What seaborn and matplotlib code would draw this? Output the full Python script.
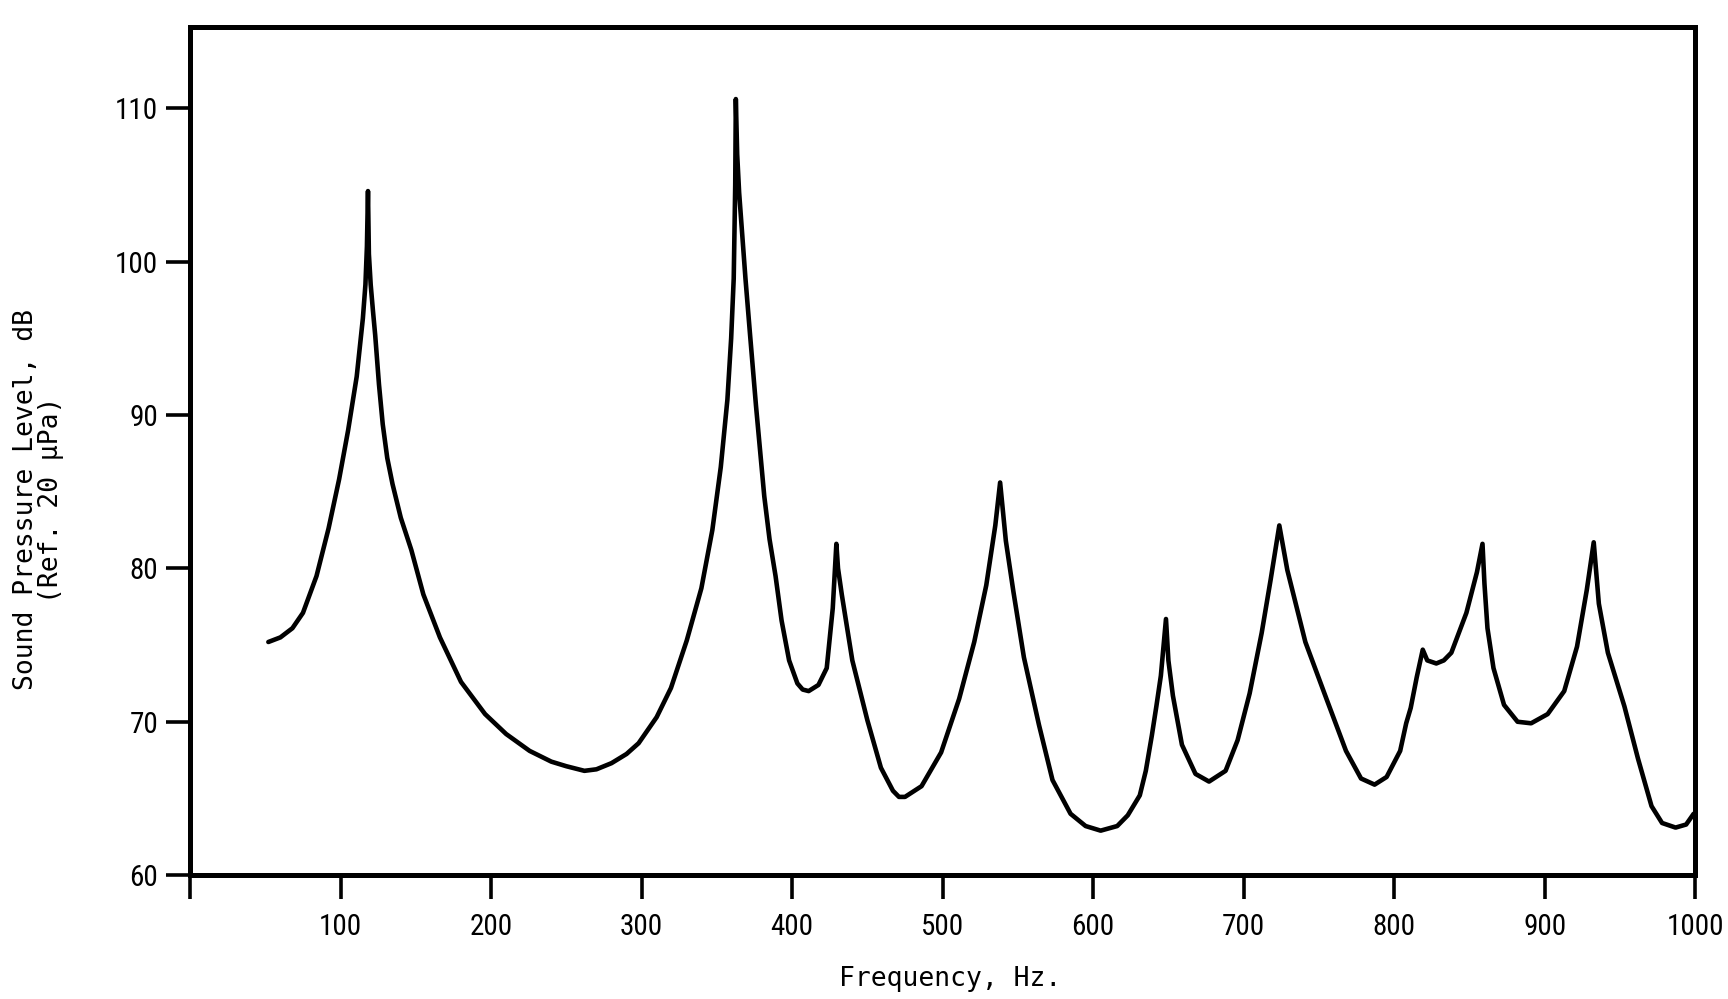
import matplotlib
matplotlib.use("Agg")
import matplotlib.pyplot as plt
from matplotlib import font_manager
import seaborn as sns
import pandas as pd

# ---- data (frequency in Hz, level in dB) ----
freq_hz = [52, 60, 68, 75, 84, 92, 99, 105, 110.7, 114.8, 116.5, 117.5, 118.2,
           118.8, 120, 121.5, 123, 125.5, 128, 131, 134.5, 140, 147, 155, 166,
           180, 196, 210, 225.6, 240, 250, 262, 270, 280, 290, 298, 310, 319.5,
           330, 339.7, 347, 352.6, 357, 359.5, 361.2, 362.2, 362.6,
           363.5, 364.8, 366.3, 369, 372, 376, 381.5, 385, 389, 393, 398, 403.5,
           407, 411, 417.5, 423, 427, 429.4,
           430.5, 433, 440, 450, 459, 467, 471, 475, 486, 499, 511, 521, 529, 535,
           538.2,
           542, 547, 554, 564, 573, 585, 595, 605, 616, 623, 631, 635, 639, 642,
           645, 648.4,
           650, 653, 659, 668, 677, 688, 696, 704, 712, 718, 723.7,
           729, 741, 755, 768, 778, 787, 795, 804, 808, 811, 815, 819,
           822, 828, 833, 838, 848, 855, 858.7,
           860, 862, 866, 873, 882, 891, 902, 913, 921.5, 928, 932.6,
           936, 942, 953, 962, 971, 978, 987, 994, 999]
spl_db = [75.2, 75.5, 76.1, 77.1, 79.5, 82.6, 85.8, 89.0, 92.5, 96.3, 98.5, 101.0, 104.6,
          100.5, 98.5, 96.8, 95.2, 92.0, 89.4, 87.2, 85.5, 83.3, 81.2, 78.3, 75.5,
          72.6, 70.5, 69.2, 68.1, 67.4, 67.1, 66.8, 66.9, 67.3, 67.9, 68.6, 70.3, 72.2,
          75.3, 78.7, 82.5, 86.6, 91.0, 95.0, 98.9, 105.0, 110.6,
          107.0, 104.5, 102.5, 98.9, 95.3, 90.6, 84.7, 81.9, 79.5, 76.6, 74.0, 72.5,
          72.1, 72.0, 72.4, 73.5, 77.4, 81.6,
          80.0, 78.3, 74.0, 70.1, 67.0, 65.5, 65.1, 65.1, 65.8, 68.0, 71.5, 75.2, 78.9, 82.8,
          85.6,
          81.8, 78.5, 74.2, 69.8, 66.2, 64.0, 63.2, 62.9, 63.2, 63.9, 65.2, 66.8, 69.1, 71.0,
          73.0, 76.7,
          74.0, 71.7, 68.5, 66.6, 66.1, 66.8, 68.8, 71.85, 75.8, 79.3, 82.8,
          79.9, 75.2, 71.5, 68.1, 66.3, 65.9, 66.4, 68.1, 69.9, 70.9, 72.9, 74.7,
          74.0, 73.8, 74.0, 74.5, 77.1, 79.75, 81.6,
          79.0, 76.1, 73.5, 71.1, 70.0, 69.9, 70.5, 72.0, 74.9, 78.6, 81.7,
          77.7, 74.5, 71.0, 67.6, 64.5, 63.4, 63.1, 63.3, 64.0]

x_ticks = [0, 100, 200, 300, 400, 500, 600, 700, 800, 900, 1000]
x_tick_labels = ["", "100", "200", "300", "400", "500", "600", "700", "800", "900", "1000"]
y_ticks = [60, 70, 80, 90, 100, 110]
y_tick_labels = ["60", "70", "80", "90", "100", "110"]

x_label = "Frequency, Hz."
y_label = "Sound Pressure Level, dB\n(Ref. 20 \u03bcPa)"

# ---- fonts ----
available = {f.name for f in font_manager.fontManager.ttflist}
def pick(cands):
    for c in cands:
        if c in available:
            return c
    return "DejaVu Sans"
tick_font = pick(["Liberation Sans Narrow", "DejaVu Sans Condensed", "Roboto Condensed", "Liberation Sans"])
mono_font = pick(["DejaVu Sans Mono", "Liberation Mono"])

sns.set_theme(style="white")
plt.rcParams["font.family"] = [tick_font, "DejaVu Sans"]

df = pd.DataFrame({"Frequency": freq_hz, "SPL": spl_db})

fig = plt.figure(figsize=(17.28, 9.99), dpi=100)
fig.patch.set_facecolor("white")
ax = fig.add_axes([0.110, 0.124, 0.871, 0.849])

sns.lineplot(data=df, x="Frequency", y="SPL", ax=ax, color="black",
             linewidth=3.3, sort=False, estimator=None)

ax.set_xlim(0, 1000)
ax.set_ylim(60, 115.3)
ax.set_xticks(x_ticks)
ax.set_xticklabels(x_tick_labels)
ax.set_yticks(y_ticks)
ax.set_yticklabels(y_tick_labels)

for s in ax.spines.values():
    s.set_visible(True)
    s.set_linewidth(3.6)
    s.set_color("black")

ax.tick_params(axis="both", which="major", direction="out", length=17,
               width=2.6, color="black", labelcolor="black", labelsize=21,
               bottom=True, left=True, top=False, right=False)
ax.tick_params(axis="x", pad=10)
ax.tick_params(axis="y", pad=6)
ax.grid(False)

ax.set_xlabel(x_label, fontsize=19, family=[mono_font, "DejaVu Sans"],
              color="black", va="center")
ax.xaxis.set_label_coords(0.505, -0.123)
ax.set_ylabel(y_label, fontsize=19, family=[mono_font, "DejaVu Sans"],
              color="black", va="center", ha="center", multialignment="center",
              linespacing=0.95)
ax.yaxis.set_label_coords(-0.101, 0.443)

fig.savefig("out.png", dpi=100, facecolor="white")
